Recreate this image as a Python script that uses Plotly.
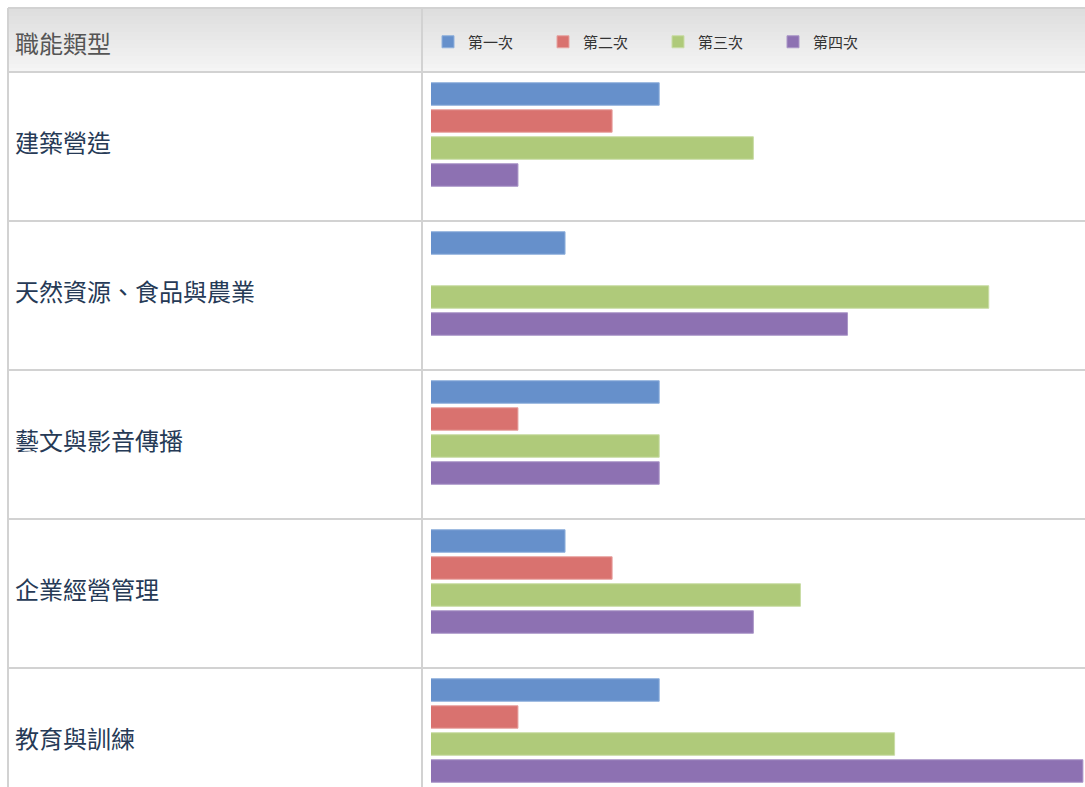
import plotly.graph_objects as go

# ---------------- data ----------------
categories = ["建築營造", "天然資源、食品與農業", "藝文與影音傳播", "企業經營管理", "教育與訓練"]
series_names = ["第一次", "第二次", "第三次", "第四次"]
first = [5, 3, 5, 3, 5]
second = [4, 0, 2, 4, 2]
third = [7, 12, 5, 8, 10]
fourth = [2, 9, 5, 7, 14]
header_title = "職能類型"

series_values = [first, second, third, fourth]
colors = ["#6690cb", "#d9726f", "#afca7a", "#8d71b2"]
rim_colors = ["#8fb0dc", "#e7a3a1", "#c9dca5", "#ab97c8"]

# ---------------- layout constants (px) ----------------
W, H = 1085, 787
plot_left = 431
plot_top = 72
row_h = 149
table_left = 8
table_top = 8
divider_x = 422
group_offset = 62.5  # group centre below row top
plot_h = H - plot_top
plot_w = W - plot_left
px_per_unit = 47.08
x0 = 0.153

def px_to_paper_x(px):
    return (px - plot_left) / plot_w

def px_to_paper_y(py):
    return 1 - (py - plot_top) / plot_h

fig = go.Figure()
for name, vals, col, rim in zip(series_names, series_values, colors, rim_colors):
    fig.add_trace(go.Bar(
        y=categories, x=vals, name=name, orientation="h",
        marker=dict(color=col, line=dict(width=1, color=rim)),
        hovertemplate="%{y}<br>" + name + ": %{x}<extra></extra>",
    ))

top_idx = -group_offset / row_h
bottom_idx = top_idx + plot_h / row_h

shapes = []
# header background gradient (stacked strips)
n_strips = 16
for k in range(n_strips):
    y_a = table_top + (plot_top - table_top) * k / n_strips
    y_b = table_top + (plot_top - table_top) * (k + 1) / n_strips
    t = k / (n_strips - 1)
    g = int(222 + (245 - 222) * t)
    shapes.append(dict(type="rect", xref="paper", yref="paper",
                       x0=px_to_paper_x(table_left), x1=1.0,
                       y0=px_to_paper_y(y_b), y1=px_to_paper_y(y_a),
                       fillcolor=f"rgb({g},{g},{g})", line=dict(width=0), layer="below"))
line_col = "#d2d2d2"
# header top line
shapes.append(dict(type="line", xref="paper", yref="paper",
                   x0=px_to_paper_x(table_left), x1=1.0,
                   y0=px_to_paper_y(table_top), y1=px_to_paper_y(table_top),
                   line=dict(color=line_col, width=2)))
# row separators (including header bottom)
for i in range(len(categories)):
    yy = px_to_paper_y(plot_top + row_h * i)
    shapes.append(dict(type="line", xref="paper", yref="paper",
                       x0=px_to_paper_x(table_left), x1=1.0, y0=yy, y1=yy,
                       line=dict(color=line_col, width=2)))
# left border and divider
for xx in (table_left, divider_x):
    shapes.append(dict(type="line", xref="paper", yref="paper",
                       x0=px_to_paper_x(xx), x1=px_to_paper_x(xx),
                       y0=0, y1=px_to_paper_y(table_top),
                       line=dict(color=line_col, width=2)))

annotations = [dict(
    text=header_title, xref="paper", yref="paper",
    x=px_to_paper_x(13), y=px_to_paper_y(42), xanchor="left", yanchor="middle",
    showarrow=False, font=dict(size=24, color="#555555", family="Noto Sans CJK TC"))]
for c in categories:
    annotations.append(dict(
        text=c, xref="paper", yref="y", x=px_to_paper_x(13), y=c, yshift=-7,
        xanchor="left", yanchor="middle", showarrow=False,
        font=dict(size=24, color="#263a56", family="Noto Sans CJK TC")))

fig.update_layout(
    width=W, height=H,
    margin=dict(l=plot_left, r=0, t=plot_top, b=0, pad=0),
    paper_bgcolor="white", plot_bgcolor="rgba(0,0,0,0)",
    barmode="group", bargap=0.275, bargroupgap=0.167,
    font=dict(family="Noto Sans CJK TC", color="#333333"),
    xaxis=dict(range=[x0, x0 + plot_w / px_per_unit], visible=False, fixedrange=True),
    yaxis=dict(type="category", range=[bottom_idx, top_idx], visible=False, fixedrange=True),
    showlegend=True,
    legend=dict(orientation="h", x=px_to_paper_x(428), y=px_to_paper_y(42),
                xanchor="left", yanchor="middle", bgcolor="rgba(0,0,0,0)",
                font=dict(size=15, color="#333333", family="Noto Sans CJK TC"),
                entrywidth=70, entrywidthmode="pixels", traceorder="normal",
                itemwidth=30),
    shapes=shapes, annotations=annotations,
)

fig.write_html("out.html", config={"displayModeBar": False},
               post_script="document.body.style.margin='0';document.body.style.overflow='hidden';")
